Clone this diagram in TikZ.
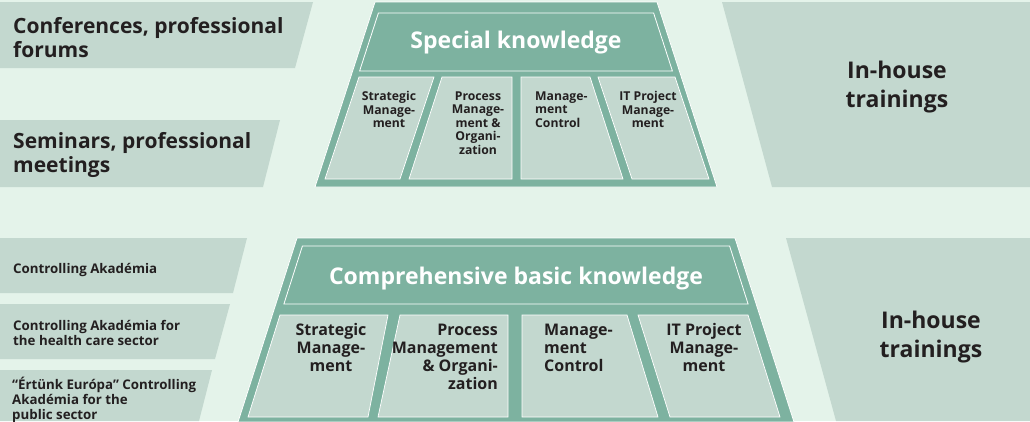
\documentclass[tikz,border=0pt]{standalone}
\usepackage{fontspec}
\setmainfont{Open Sans}
\definecolor{bgc}{HTML}{E4F3EA}
\definecolor{panelc}{HTML}{C3D8CF}
\definecolor{darkc}{HTML}{7DB2A0}
\definecolor{txtc}{HTML}{231F20}
\tikzset{
  panel/.style={fill=panelc},
  darktrap/.style={fill=darkc, draw=white, line width=0.8pt, line join=miter},
  hdrline/.style={draw=white, line width=0.8pt},
  cellbox/.style={fill=panelc, draw=white, line width=0.7pt},
  lbl/.style={inner sep=0pt, text=txtc},
  biglbl/.style={lbl, font=\fontsize{21}{24.5}\selectfont\bfseries, align=left, anchor=north west},
  smlbl/.style={lbl, font=\fontsize{13.3}{15}\selectfont\bfseries, align=left, anchor=north west},
  inhouse/.style={lbl, font=\fontsize{23}{29}\selectfont\bfseries, align=center, anchor=north},
  title/.style={inner sep=0pt, text=white, font=\fontsize{23}{26}\selectfont\bfseries, anchor=base},
  topcell/.style={lbl, font=\fontsize{12.2}{13.5}\selectfont\bfseries, anchor=north},
  botcell/.style={lbl, font=\fontsize{16}{18}\selectfont\bfseries, anchor=north},
}
\begin{document}
\begin{tikzpicture}[x=1pt,y=-1pt]
\fill[bgc] (0,0) rectangle (1030,421);
\useasboundingbox (0,0) rectangle (1030,421);

% ---------- top section ----------
\fill[panel] (0,2) -- (313,2) -- (295,68) -- (0,68) -- cycle;
\fill[panel] (0,120) -- (280,120) -- (263,187) -- (0,187) -- cycle;
\fill[panel] (722,2) -- (1030,2) -- (1030,187) -- (772,187) -- cycle;

\node[biglbl] (conf) at (13,17) {Conferences, professional\\forums};
\node[biglbl] (semi) at (13,132) {Seminars, professional\\meetings};
\node[inhouse] (inh1) at (897,60.5) {In-house\\trainings};

\path[darktrap] (375,2) -- (657,2) -- (717,187) -- (315,187) -- cycle;
\path[hdrline] (378.4,13) -- (653.6,13) -- (672.4,71) -- (359.6,71) -- cycle;
\node[title] (spec) at (516,48) {Special knowledge};

\path[cellbox] (359,77) -- (434,77) -- (400,179) -- (325,179) -- cycle;
\path[cellbox] (442,77) -- (512,77) -- (512,179) -- (409,179) -- cycle;
\path[cellbox] (521,77) -- (590,77) -- (623,179) -- (521,179) -- cycle;
\path[cellbox] (598,77) -- (675,77) -- (709,179) -- (632,179) -- cycle;

\node[topcell, align=center] (t1) at (389,91.4) {Strategic\\Manage-\\ment};
\node[topcell, align=center] (t2) at (478,91.4) {Process\\Manage-\\ment \&\\Organi-\\zation};
\node[topcell, align=left, anchor=north west] (t3) at (535,91.4) {Manage-\\ment\\Control};
\node[topcell, align=center] (t4) at (648,91.4) {IT Project\\Manage-\\ment};

% ---------- bottom section ----------
\fill[panel] (0,238) -- (247,238) -- (233,293) -- (0,293) -- cycle;
\fill[panel] (0,304) -- (230,304) -- (215,359) -- (0,359) -- cycle;
\fill[panel] (0,370) -- (212,370) -- (199,421) -- (0,421) -- cycle;
\fill[panel] (786,238) -- (1030,238) -- (1030,421) -- (836,421) -- cycle;

\node[smlbl] (ca1) at (13,263) {Controlling Akadémia};
\node[smlbl] (ca2) at (13,320) {Controlling Akadémia for\\the health care sector};
\node[smlbl] (ca3) at (12,377) {“Értünk Európa” Controlling\\Akadémia for the\\public sector};
\node[inhouse] (inh2) at (931,310.5) {In-house\\trainings};

\path[darktrap] (297,238) -- (735,238) -- (794,422) -- (238,422) -- cycle;
\path[hdrline] (302.4,246) -- (729.6,246) -- (748.1,304) -- (283.9,304) -- cycle;
\node[title] (comp) at (516,284) {Comprehensive basic knowledge};

\path[cellbox] (280,315) -- (388,315) -- (368,417) -- (248,417) -- cycle;
\path[cellbox] (400,315) -- (508,315) -- (508,417) -- (378,417) -- cycle;
\path[cellbox] (522,315) -- (627,315) -- (658,417) -- (522,417) -- cycle;
\path[cellbox] (638,315) -- (748,315) -- (780,417) -- (670,417) -- cycle;

\node[botcell, align=center] (b1) at (331,323.5) {Strategic\\Manage-\\ment};
\node[botcell, align=right, anchor=north east] (b2) at (498,323.5) {Process\\Management\\\& Organi-\\zation};
\node[botcell, align=left, anchor=north west] (b3) at (544,323.5) {Manage-\\ment\\Control};
\node[botcell, align=center] (b4) at (704,323.5) {IT Project\\Manage-\\ment};
\end{tikzpicture}
\end{document}
